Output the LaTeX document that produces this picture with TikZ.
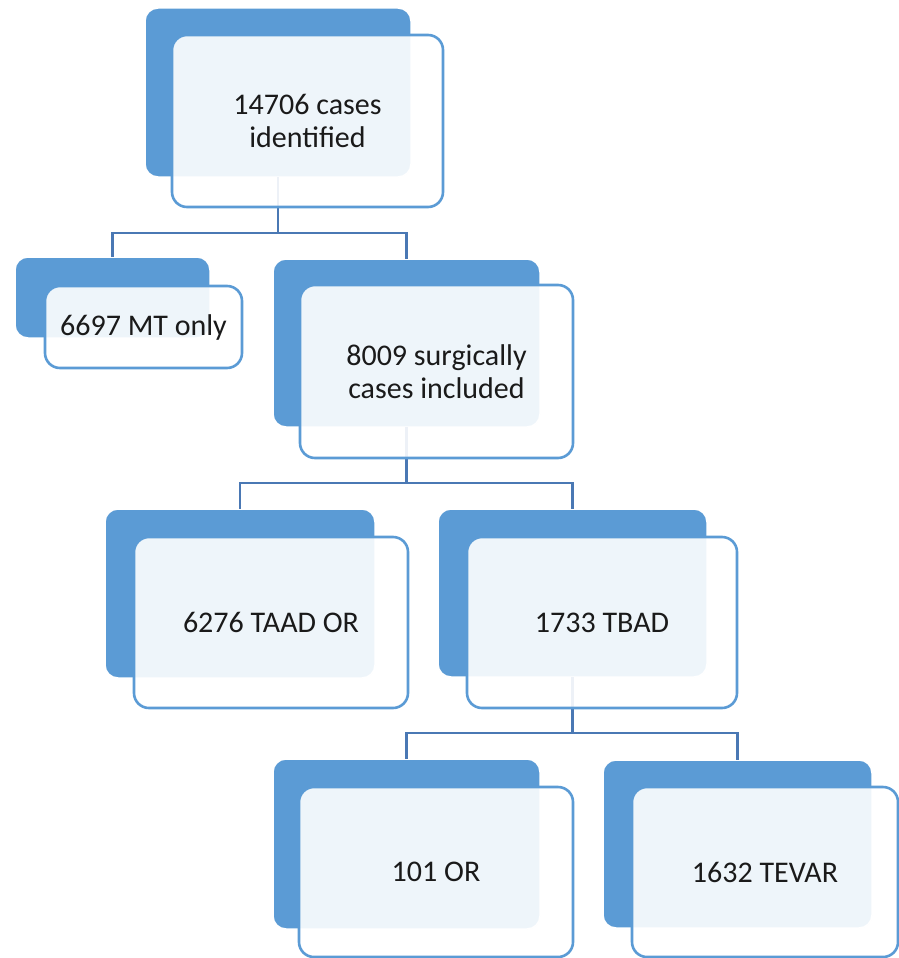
\documentclass[tikz,border=0pt]{standalone}
\usepackage{fontspec}
\setmainfont{Carlito}
\definecolor{boxblue}{HTML}{5B9BD5}
\definecolor{edgeblue}{HTML}{5B9BD5}
\definecolor{linkblue}{HTML}{4A78B4}
\definecolor{txt}{HTML}{1A1A1A}
\tikzset{
  backbox/.style={rectangle, rounded corners=13pt, fill=boxblue, draw=white, line width=1.5pt, inner sep=0pt, outer sep=0pt},
  frontbox/.style={rectangle, rounded corners=15pt, fill=white, fill opacity=0.9, text opacity=1, draw=edgeblue, line width=2.6pt, inner sep=0pt, outer sep=0pt, align=center, text=txt, font=\fontsize{30}{33}\selectfont},
  link/.style={draw=linkblue, line width=2.8pt}
}
\begin{document}
\begin{tikzpicture}[x=1pt,y=-1pt]
\useasboundingbox (0,0) rectangle (899,958);
% back boxes
\node[backbox, minimum width=266pt, minimum height=169pt] (b1) at (278,92.5) {};
\node[backbox, minimum width=195pt, minimum height=81pt] (b2) at (112.5,297.5) {};
\node[backbox, minimum width=267pt, minimum height=168pt] (b3) at (406.5,343) {};
\node[backbox, minimum width=270pt, minimum height=169pt] (b4) at (240,593.5) {};
\node[backbox, minimum width=269pt, minimum height=168pt] (b5) at (572.5,593) {};
\node[backbox, minimum width=267pt, minimum height=170pt] (b6) at (406.5,844) {};
\node[backbox, minimum width=269pt, minimum height=168pt] (b7) at (737.5,844) {};
% connectors
\coordinate (bus1) at (0,233);
\coordinate (bus2) at (0,483);
\coordinate (bus3) at (0,733);
\draw[link] (b1.south) -- (b1.south |- bus1) -| (b2.north);
\draw[link] (b1.south |- bus1) -| (b3.north);
\draw[link] (b3.south) -- (b3.south |- bus2) -| (b4.north);
\draw[link] (b3.south |- bus2) -| (b5.north);
\draw[link] (b5.south) -- (b5.south |- bus3) -| (b6.north);
\draw[link] (b5.south |- bus3) -| (b7.north);
% front boxes
\node[frontbox, minimum width=271pt, minimum height=172pt] (f1) at (307.5,121) {14706 cases\\identified};
\node[frontbox, minimum width=197pt, minimum height=82pt] (f2) at (143.5,327) {6697 MT only};
\node[frontbox, minimum width=273pt, minimum height=173pt] (f3) at (436.5,371.5) {8009 surgically\\cases included};
\node[frontbox, minimum width=274pt, minimum height=171pt] (f4) at (271,622.5) {6276 TAAD OR};
\node[frontbox, minimum width=270pt, minimum height=171pt] (f5) at (602,622.5) {1733 TBAD};
\node[frontbox, minimum width=274pt, minimum height=170pt] (f6) at (436,872) {101 OR};
\node[frontbox, minimum width=266pt, minimum height=170pt] (f7) at (765,872) {1632 TEVAR};
\end{tikzpicture}
\end{document}
